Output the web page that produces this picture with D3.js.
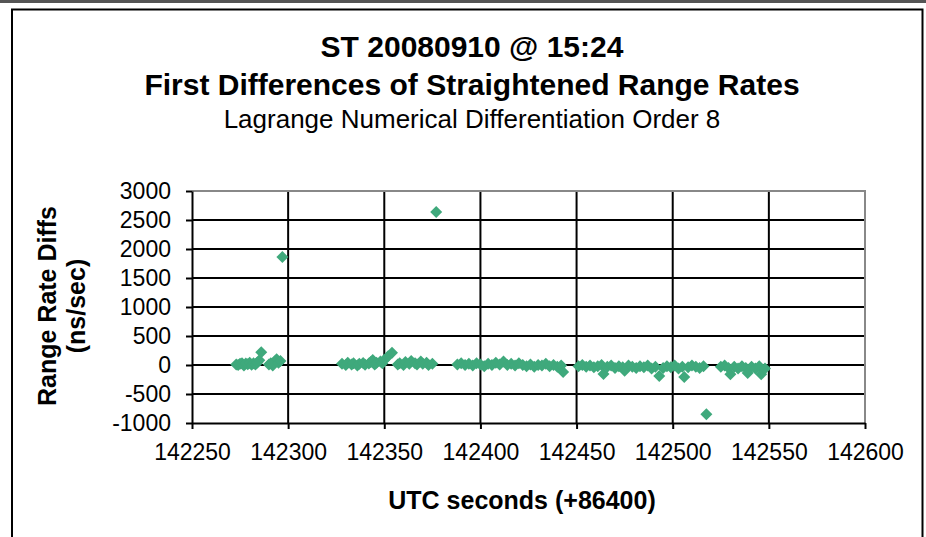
<!DOCTYPE html>
<html>
<head>
<meta charset="utf-8">
<script src="https://cdn.jsdelivr.net/npm/d3@7"></script>
<style>
  body { margin: 0; background: #fff; }
  svg { display: block; font-family: "Liberation Sans", Arial, sans-serif; }
</style>
</head>
<body>
<svg id="chart" width="926" height="537"></svg>
<script>
// chart text
const titleLines = ["ST 20080910 @ 15:24", "First Differences of Straightened Range Rates"];
const subTitle = "Lagrange Numerical Differentiation Order 8";
const xTitle = "UTC seconds (+86400)";
const yTitleLines = ["Range Rate Diffs", "(ns/sec)"];

// axis ticks
const xTicks = [142250, 142300, 142350, 142400, 142450, 142500, 142550, 142600];
const yTicks = [-1000, -500, 0, 500, 1000, 1500, 2000, 2500, 3000];

// time (UTC seconds) and range rate diffs
const seconds = [
  142273, 142274, 142275, 142276, 142277, 142278, 142279, 142280, 142281, 142282, 142283, 142284, 142285, 142286,
  142290, 142291, 142292, 142293, 142294, 142295, 142296, 142297,
  142328, 142330, 142331, 142333, 142334, 142336, 142337, 142339, 142340, 142342, 142343, 142344, 142345, 142346,
  142348, 142349, 142350, 142352, 142354,
  142357, 142358, 142360, 142361, 142363, 142364, 142366, 142367, 142369, 142370, 142372, 142373, 142375, 142377,
  142388, 142390, 142392, 142394, 142396, 142398, 142400, 142402, 142404, 142406, 142408, 142410, 142412, 142414,
  142416, 142418, 142420, 142422, 142424, 142426, 142428, 142430, 142432, 142434, 142436, 142438, 142440, 142442, 142443,
  142451, 142453, 142455, 142457, 142459, 142461, 142463, 142464, 142466, 142468, 142470, 142472, 142474, 142475,
  142477, 142479, 142481, 142483, 142485, 142487, 142489, 142491, 142493, 142495, 142497, 142499, 142501, 142503,
  142505, 142506, 142508, 142510, 142512, 142514, 142516, 142517.5,
  142525, 142527, 142529, 142530, 142532, 142534, 142536, 142538, 142539, 142541, 142543, 142545, 142546, 142548
];
const diffs = [
  10, 0, 20, 30, -10, 25, 15, 40, 5, 30, 10, 45, 80, 220,
  10, 30, -10, 60, 100, 40, 70, 1860,
  20, 0, 40, 10, 30, -10, 20, 35, 5, 25, 50, 85, 10, 40,
  60, 30, 90, 150, 210,
  10, 30, 0, 50, 20, 70, 30, 10, 60, 20, 40, 0, 20, 2640,
  10, 30, 0, 20, -10, 30, 10, -20, 20, 0, 40, 10, 60, 0,
  20, -10, 30, 0, -20, 10, -30, 0, -10, 20, -20, 0, -30, -10, -120,
  -20, 0, -30, -10, -40, -20, 0, -155, -30, -10, -50, -20, -40, -100,
  -10, -30, -50, -20, -40, -10, -60, -30, -190, -50, -20, -40, -10, -60,
  -30, -205, -40, -10, -30, -50, -20, -850,
  -30, -10, -50, -160, -30, -60, -20, -50, -140, -30, -60, -20, -160, -60
];

const svg = d3.select("#chart");
const PLOT = { left: 192, right: 865, top: 191, bottom: 423 };

const x = d3.scaleLinear().domain([142250, 142600]).range([PLOT.left, PLOT.right]);
const y = d3.scaleLinear().domain([-1000, 3000]).range([PLOT.bottom, PLOT.top]);

// outer frame
svg.append("line")
  .attr("x1", 0).attr("x2", 926).attr("y1", 1.5).attr("y2", 1.5)
  .attr("stroke", "#555").attr("stroke-width", 3);
svg.append("path")
  .attr("d", "M12,537 V9.5 H922.5 V537")
  .attr("fill", "none").attr("stroke", "#000").attr("stroke-width", 2);

// titles
svg.selectAll(".title")
  .data(titleLines)
  .join("text")
  .attr("class", "title")
  .attr("x", 472)
  .attr("y", (d, i) => 57 + i * 38)
  .attr("text-anchor", "middle")
  .style("font-size", "30px")
  .style("font-weight", "bold")
  .text(d => d);

svg.append("text")
  .attr("x", 472).attr("y", 128)
  .attr("text-anchor", "middle")
  .style("font-size", "26px")
  .text(subTitle);

// gridlines
const grid = svg.append("g").attr("stroke", "#000").attr("stroke-width", 2);
grid.selectAll(".hgrid")
  .data(yTicks.filter(d => d > -1000 && d < 3000))
  .join("line")
  .attr("x1", PLOT.left).attr("x2", PLOT.right)
  .attr("y1", d => y(d)).attr("y2", d => y(d));
grid.selectAll(".vgrid")
  .data(xTicks.filter(d => d > 142250 && d < 142600))
  .join("line")
  .attr("y1", PLOT.top).attr("y2", PLOT.bottom)
  .attr("x1", d => x(d)).attr("x2", d => x(d));

// top and right plot border in gray
svg.append("path")
  .attr("d", `M${PLOT.left},${PLOT.top} H${PLOT.right} V${PLOT.bottom}`)
  .attr("fill", "none").attr("stroke", "#888").attr("stroke-width", 2);

// axes
const yAxis = svg.append("g")
  .attr("transform", `translate(${PLOT.left},0)`)
  .call(d3.axisLeft(y).tickValues(yTicks).tickFormat(d => String(d)).tickSize(6).tickSizeOuter(0).tickPadding(15));
const xAxis = svg.append("g")
  .attr("transform", `translate(0,${PLOT.bottom})`)
  .call(d3.axisBottom(x).tickValues(xTicks).tickFormat(d => String(d)).tickSize(6).tickSizeOuter(0).tickPadding(15));

[yAxis, xAxis].forEach(g => {
  g.select(".domain").attr("stroke", "#000").attr("stroke-width", 2);
  g.selectAll(".tick line").attr("stroke", "#000").attr("stroke-width", 2);
  g.selectAll(".tick text")
    .attr("fill", "#000")
    .style("font-size", "23px")
    .style("font-family", "'Liberation Sans', Arial, sans-serif");
});

// axis titles
svg.append("text")
  .attr("x", 522).attr("y", 509)
  .attr("text-anchor", "middle")
  .style("font-size", "25px")
  .style("font-weight", "bold")
  .text(xTitle);

svg.selectAll(".ytitle")
  .data(yTitleLines)
  .join("text")
  .attr("class", "ytitle")
  .attr("transform", (d, i) => `translate(${56 + i * 29},306) rotate(-90)`)
  .attr("text-anchor", "middle")
  .style("font-size", "25px")
  .style("font-weight", "bold")
  .text(d => d);

// points
const diamond = d3.symbol(d3.symbolSquare, 72);
svg.append("g")
  .selectAll("path")
  .data(seconds.map((s, i) => ({ s: s, v: diffs[i] })))
  .join("path")
  .attr("d", diamond)
  .attr("transform", d => `translate(${x(d.s)},${y(d.v)}) rotate(45)`)
  .attr("fill", "#3fa97c");
</script>
</body>
</html>
